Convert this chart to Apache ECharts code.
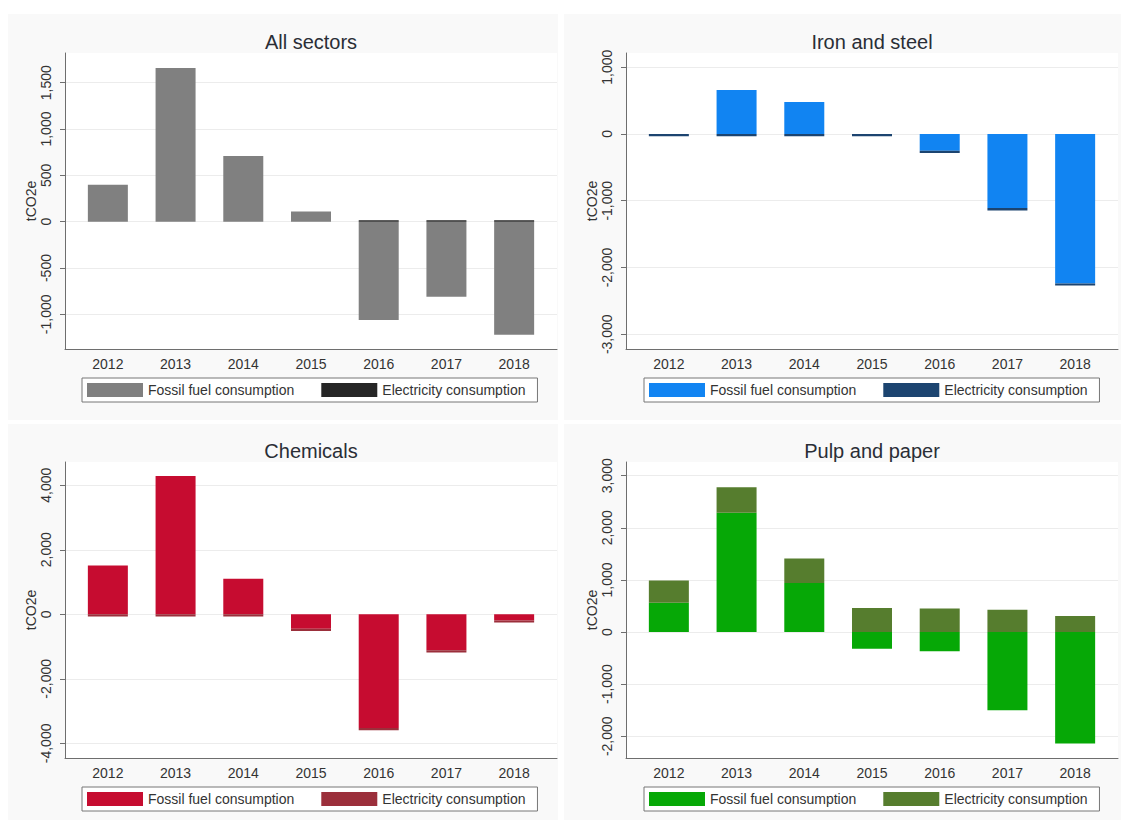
<!DOCTYPE html>
<html>
<head>
<meta charset="utf-8">
<script src="https://cdn.jsdelivr.net/npm/echarts@6/dist/echarts.min.js"></script>
<style>
html, body { margin: 0; padding: 0; background: #ffffff; }
#chart { width: 1121px; height: 823px; }
</style>
</head>
<body>
<div id="chart"></div>
<script>
// Year-on-year change in emissions (tCO2e), split by source
const years = ['2012', '2013', '2014', '2015', '2016', '2017', '2018'];
const legendNames = ['Fossil fuel consumption', 'Electricity consumption'];
const panelTitles = ['All sectors', 'Iron and steel', 'Chemicals', 'Pulp and paper'];
const axisTitle = 'tCO2e';

const allFossil = [400, 1660, 710, 110, -1060, -810, -1220];
const allElec = [0, 0, 0, 0, 15, 15, 15];
const ironFossil = [0, 660, 480, 0, -250, -1110, -2240];
const ironElec = [-35, -35, -35, -35, -35, -35, -30];
const chemFossil = [1510, 4290, 1100, -450, -3520, -1110, -190];
const chemElec = [-70, -70, -70, -70, -70, -70, -60];
const pulpFossil = [560, 2290, 940, -320, -370, -1500, -2140];
const pulpElec = [430, 490, 470, 460, 450, 430, 310];

const allTicks = [-1000, -500, 0, 500, 1000, 1500];
const ironTicks = [-3000, -2000, -1000, 0, 1000];
const chemTicks = [-4000, -2000, 0, 2000, 4000];
const pulpTicks = [-2000, -1000, 0, 1000, 2000, 3000];

// Per-panel styling and layout
const FONT = '"Liberation Sans", Arial, Helvetica, sans-serif';
const panels = [
  { fossil: allFossil, elec: allElec, ticks: allTicks, min: -1374, max: 1821,
    colors: ['#808080', '#262626'], left: 65, top: 53, legendLeft: 82, legendTop: 378,
    bg: [8, 14, 550, 406] },
  { fossil: ironFossil, elec: ironElec, ticks: ironTicks, min: -3221, max: 1213,
    colors: ['#1184f2', '#1c4470'], left: 626, top: 53, legendLeft: 644, legendTop: 378,
    bg: [564, 14, 557, 406] },
  { fossil: chemFossil, elec: chemElec, ticks: chemTicks, min: -4453, max: 4720,
    colors: ['#c60c30', '#9b2f3b'], left: 65, top: 462, legendLeft: 82, legendTop: 787,
    bg: [8, 424, 550, 396] },
  { fossil: pulpFossil, elec: pulpElec, ticks: pulpTicks, min: -2417, max: 3263,
    colors: ['#06a806', '#567d2e'], left: 626, top: 462, legendLeft: 644, legendTop: 787,
    bg: [564, 424, 557, 396] }
];
// Outer plot region (axes, grid lines) and inner band region (bars)
const PLOT_W = 492, PLOT_H = 296, BAND_INSET = 9;

const fmt = v => Number(v).toLocaleString('en-US');

const option = {
  backgroundColor: '#ffffff',
  animation: false,
  textStyle: { fontFamily: FONT },
  title: [], grid: [], xAxis: [], yAxis: [], series: [], legend: [],
  graphic: { elements: [] }
};

panels.forEach((p, i) => {
  const outer = 2 * i, inner = 2 * i + 1;
  option.graphic.elements.push({
    type: 'rect', z: -10, silent: true,
    shape: { x: p.bg[0], y: p.bg[1], width: p.bg[2], height: p.bg[3] },
    style: { fill: '#f9f9f9' }
  });
  option.title.push({
    text: panelTitles[i],
    left: p.left + PLOT_W / 2, top: p.top - 11, padding: 0,
    textAlign: 'center', textVerticalAlign: 'middle',
    textStyle: { fontFamily: FONT, fontSize: 20, fontWeight: 'normal', color: '#2a2e36' }
  });

  // outer grid: y axis, grid lines and the full-width x axis line
  option.grid.push({
    left: p.left, top: p.top, width: PLOT_W, height: PLOT_H,
    show: true, backgroundColor: '#ffffff', borderWidth: 0
  });
  option.xAxis.push({
    type: 'value', gridIndex: outer, min: 0, max: 1,
    axisLine: { show: true, onZero: false, lineStyle: { color: '#6e6e6e', width: 1 } },
    axisTick: { show: false }, axisLabel: { show: false }, splitLine: { show: false }
  });
  option.yAxis.push({
    type: 'value', gridIndex: outer, min: p.min, max: p.max,
    name: axisTitle, nameLocation: 'middle', nameRotate: 90, nameGap: 25,
    nameTextStyle: { fontFamily: FONT, fontSize: 14, color: '#333333' },
    axisLine: { show: true, onZero: false, lineStyle: { color: '#6e6e6e', width: 1 } },
    axisTick: { show: true, customValues: p.ticks, length: 5, lineStyle: { color: '#6e6e6e' } },
    axisLabel: { customValues: p.ticks, rotate: 90, formatter: fmt, fontFamily: FONT,
      fontSize: 14, color: '#333333', margin: 12 },
    splitLine: { show: true, lineStyle: { color: '#ececec', width: 1 } }
  });

  // inner grid: year bands and the stacked bars
  option.grid.push({
    left: p.left + BAND_INSET, top: p.top, width: PLOT_W - 2 * BAND_INSET, height: PLOT_H
  });
  option.xAxis.push({
    type: 'category', gridIndex: inner, data: years, boundaryGap: true,
    axisLine: { show: false }, axisTick: { show: false }, splitLine: { show: false },
    axisLabel: { fontFamily: FONT, fontSize: 14, color: '#333333', margin: 8, interval: 0 }
  });
  option.yAxis.push({
    type: 'value', gridIndex: inner, min: p.min, max: p.max, show: false,
    splitLine: { show: false }
  });

  [p.fossil, p.elec].forEach((vals, k) => {
    option.series.push({
      type: 'bar', name: legendNames[k], xAxisIndex: inner, yAxisIndex: inner,
      stack: 'panel' + i, barWidth: 40,
      itemStyle: { color: p.colors[k] },
      data: vals
    });
  });
  option.legend.push({
    left: p.legendLeft, top: p.legendTop, orient: 'horizontal',
    selectedMode: false, icon: 'rect', itemWidth: 56, itemHeight: 14, itemGap: 27,
    padding: [5, 12, 5, 5], borderColor: '#777777', borderWidth: 1, backgroundColor: '#ffffff',
    textStyle: { fontFamily: FONT, fontSize: 14, color: '#333333' },
    data: legendNames.map((n, k) => ({ name: n, itemStyle: { color: p.colors[k] } }))
  });
});

const chart = echarts.init(document.getElementById('chart'), null, { renderer: 'svg' });
chart.setOption(option);
</script>
</body>
</html>
